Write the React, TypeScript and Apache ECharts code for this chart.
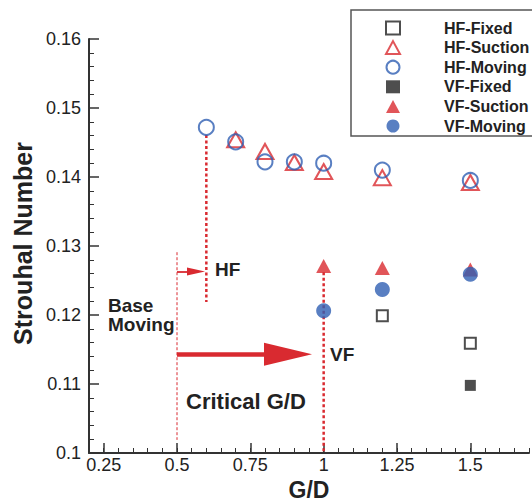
import React, { useEffect, useRef } from 'react';
import * as echarts from 'echarts';

// ---- data ----
const seriesNames = ['HF-Fixed', 'HF-Suction', 'HF-Moving', 'VF-Fixed', 'VF-Suction', 'VF-Moving'];
const hfFixed = [[1.2, 0.1199], [1.5, 0.1159]];
const hfSuction = [[0.7, 0.1454], [0.8, 0.1437], [0.9, 0.1421], [1.0, 0.1408], [1.2, 0.1399], [1.5, 0.1392]];
const hfMoving = [[0.6, 0.1472], [0.7, 0.1451], [0.8, 0.1422], [0.9, 0.1422], [1.0, 0.1420], [1.2, 0.1410], [1.5, 0.1395]];
const vfFixed = [[1.5, 0.1098]];
const vfSuction = [[1.0, 0.1271], [1.2, 0.1268], [1.5, 0.1266]];
const vfMoving = [[1.0, 0.1206], [1.2, 0.1237], [1.5, 0.1259]];

const xTickLabels = [0.25, 0.5, 0.75, 1, 1.25, 1.5];

// annotation guide lines (data coordinates)
const hfGuide = [[0.6, 0.1461], [0.6, 0.1219]];
const vfGuide = [[1.0, 0.1262], [1.0, 0.1]];
const baseGuide = [[0.5, 0.1291], [0.5, 0.1019]];
const hfArrow = [[0.5, 0.1263], [0.5648, 0.1263]];
const vfArrow = [[0.5, 0.1143], [0.8785, 0.1143]];

const FONT = '"Liberation Sans", Arial, Helvetica, sans-serif';
const RED = '#d92a30';
const BLUE = '#2f5fb3';
const BLACK = '#222';
const AXIS = '#333';

export default function App() {
  const ref = useRef<HTMLDivElement>(null);
  useEffect(() => {
    if (!ref.current) return;
    const chart = echarts.init(ref.current, undefined, { renderer: 'svg' });
    const hollow = (c: string) => ({ color: 'rgba(0,0,0,0)', borderColor: c, borderWidth: 2 });
    const guide = (data: number[][], width: number, type: any) => ({
      type: 'line',
      data,
      symbol: 'none',
      silent: true,
      z: 1,
      lineStyle: { color: RED, width, type },
    });
    const option: any = {
      animation: false,
      textStyle: { fontFamily: FONT },
      grid: { left: 89, right: 3, top: 39, bottom: 49, containLabel: false, outerBoundsMode: 'none' },
      legend: {
        data: seriesNames,
        orient: 'vertical',
        left: 385,
        top: 20,
        padding: 0,
        itemWidth: 14,
        itemHeight: 13,
        itemGap: 3.6,
        selectedMode: false,
        textStyle: { fontSize: 16, fontWeight: 'bold', color: BLACK, fontFamily: FONT, padding: [0, 0, 0, 39] },
      },
      xAxis: [
        {
          type: 'value',
          min: 0.2,
          max: 1.7,
          interval: 0.05,
          position: 'bottom',
          axisLine: { show: true, onZero: false, lineStyle: { color: AXIS, width: 2 } },
          axisTick: { show: true, inside: true, length: 5, lineStyle: { color: AXIS, width: 1 } },
          axisLabel: {
            customValues: xTickLabels,
            fontSize: 18,
            color: BLACK,
            margin: 3,
            formatter: (v: number) => String(v),
          },
          splitLine: { show: false },
          name: 'G/D',
          nameLocation: 'middle',
          nameGap: 23,
          nameTextStyle: { fontSize: 23, fontWeight: 'bold', color: BLACK, fontFamily: FONT },
        },
        {
          type: 'value',
          min: 0.2,
          max: 1.7,
          position: 'bottom',
          axisLine: { show: false },
          axisTick: { show: true, inside: true, length: 10, customValues: xTickLabels, lineStyle: { color: AXIS, width: 1.5 } },
          axisLabel: { show: false },
          splitLine: { show: false },
        },
      ],
      yAxis: {
        type: 'value',
        min: 0.1,
        max: 0.16,
        interval: 0.01,
        position: 'left',
        axisLine: { show: true, onZero: false, lineStyle: { color: AXIS, width: 2 } },
        axisTick: { show: true, inside: true, length: 10, lineStyle: { color: AXIS, width: 1.5 } },
        minorTick: { show: true, splitNumber: 5, length: 5, lineStyle: { color: AXIS, width: 1 } },
        axisLabel: { fontSize: 18, color: BLACK, margin: 8 },
        splitLine: { show: false },
        minorSplitLine: { show: false },
        name: 'Strouhal Number',
        nameLocation: 'middle',
        nameGap: 50,
        nameTextStyle: { fontSize: 25, fontWeight: 'bold', color: BLACK, fontFamily: FONT, padding: [0, 0, 0, 5] },
      },
      series: [
        {
          ...guide(baseGuide, 1, [3, 2]),
          markLine: {
            silent: true,
            symbol: ['none', 'triangle'],
            label: { show: false },
            data: [
              [
                { coord: hfArrow[0], lineStyle: { color: RED, width: 1.8, type: 'solid' } },
                { coord: hfArrow[1], symbol: 'triangle', symbolSize: [8, 18] },
              ],
              [
                { coord: vfArrow[0], lineStyle: { color: RED, width: 4.5, type: 'solid' } },
                { coord: vfArrow[1], symbol: 'triangle', symbolSize: [23, 48] },
              ],
            ],
          },
        },
        guide(hfGuide, 2.5, [3, 2.5]),
        guide(vfGuide, 2.5, [3, 2.5]),
        { name: 'HF-Fixed', type: 'scatter', data: hfFixed, symbol: 'rect', symbolSize: 11, itemStyle: hollow(BLACK), z: 3 },
        { name: 'HF-Suction', type: 'scatter', data: hfSuction, symbol: 'triangle', symbolSize: [17, 15], itemStyle: hollow(RED), z: 3 },
        { name: 'HF-Moving', type: 'scatter', data: hfMoving, symbol: 'circle', symbolSize: 15, itemStyle: hollow(BLUE), z: 3 },
        { name: 'VF-Fixed', type: 'scatter', data: vfFixed, symbol: 'rect', symbolSize: 11, itemStyle: { color: BLACK }, z: 3 },
        { name: 'VF-Suction', type: 'scatter', data: vfSuction, symbol: 'triangle', symbolSize: [15, 14], itemStyle: { color: RED }, z: 3 },
        { name: 'VF-Moving', type: 'scatter', data: vfMoving, symbol: 'circle', symbolSize: 15, itemStyle: { color: BLUE }, z: 3 },
      ],
      graphic: [
        {
          type: 'rect',
          silent: true,
          shape: { x: 351, y: 10, width: 200, height: 126 },
          style: { fill: 'none', stroke: '#555', lineWidth: 1.5 },
        },
        { type: 'text', x: 215, y: 269, style: { text: 'HF', fontSize: 19, fontWeight: 'bold', fontFamily: FONT, fill: BLACK, verticalAlign: 'middle' } },
        { type: 'text', x: 108, y: 305, style: { text: 'Base', fontSize: 19, fontWeight: 'bold', fontFamily: FONT, fill: BLACK, verticalAlign: 'middle' } },
        { type: 'text', x: 108, y: 324, style: { text: 'Moving', fontSize: 19, fontWeight: 'bold', fontFamily: FONT, fill: BLACK, verticalAlign: 'middle' } },
        { type: 'text', x: 330, y: 354, style: { text: 'VF', fontSize: 19, fontWeight: 'bold', fontFamily: FONT, fill: BLACK, verticalAlign: 'middle' } },
        { type: 'text', x: 186, y: 401, style: { text: 'Critical G/D', fontSize: 22, fontWeight: 'bold', fontFamily: FONT, fill: BLACK, verticalAlign: 'middle' } },
      ],
    };
    chart.setOption(option);
    return () => chart.dispose();
  }, []);
  return (
    <div
      ref={ref}
      style={{ position: 'fixed', left: 0, top: 0, width: 532, height: 502, background: '#fff' }}
    />
  );
}
